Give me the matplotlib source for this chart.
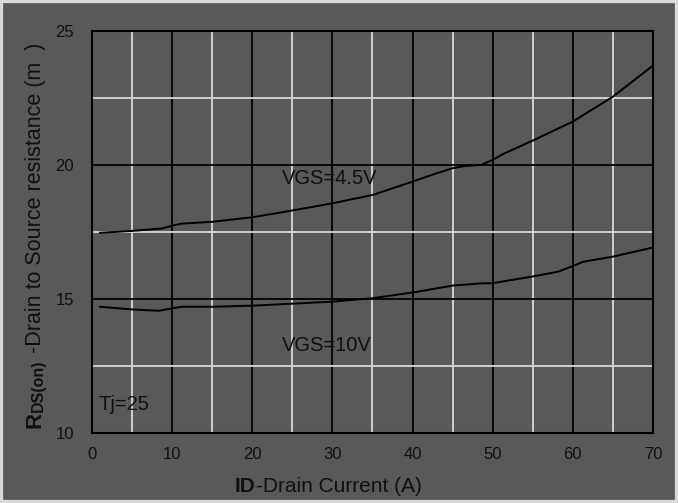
import matplotlib
matplotlib.use("Agg")
import matplotlib.pyplot as plt
from matplotlib.patches import Rectangle
from matplotlib.ticker import MultipleLocator

plt.rcParams['font.family'] = ['Liberation Sans', 'DejaVu Sans']

# drain current (A) and Rds(on) (mOhm)
id_45 = [1, 5, 8.7, 10.2, 11.2, 15, 20, 24, 30, 35, 40, 43, 45, 46.5, 48.5, 50, 51.3, 55, 60, 65, 70]
rds_45 = [17.47, 17.54, 17.63, 17.75, 17.81, 17.88, 18.05, 18.25, 18.57, 18.88, 19.38,
          19.69, 19.88, 19.96, 20.0, 20.19, 20.41, 20.91, 21.62, 22.55, 23.71]

id_10 = [1, 5, 8.3, 10.2, 11.2, 15, 20, 24, 30, 35, 40, 45, 48.5, 50, 55, 58.2, 60, 61.3, 65, 70]
rds_10 = [14.71, 14.61, 14.56, 14.66, 14.71, 14.71, 14.75, 14.81, 14.90, 15.03, 15.24,
          15.5, 15.58, 15.59, 15.84, 16.02, 16.23, 16.39, 16.58, 16.92]

x_ticks = [0, 10, 20, 30, 40, 50, 60, 70]
y_ticks = [10, 15, 20, 25]

bg = '#595959'
light = '#d9d9d9'
ink = '#111111'

fig = plt.figure(figsize=(6.78, 5.03), dpi=100, facecolor=bg)
ax = fig.add_axes([0.1357, 0.1392, 0.9631 - 0.1357, 0.9384 - 0.1392])
ax.set_facecolor(bg)

ax.set_xlim(0, 70)
ax.set_ylim(10, 25)
ax.set_xticks(x_ticks)
ax.set_yticks(y_ticks)
ax.xaxis.set_minor_locator(MultipleLocator(5))
ax.yaxis.set_minor_locator(MultipleLocator(2.5))

ax.grid(which='minor', color=light, lw=1.3)
ax.grid(which='major', color='black', lw=1.3)
ax.set_axisbelow(True)
for sp in ax.spines.values():
    sp.set_color('black')
    sp.set_linewidth(1.5)

ax.tick_params(which='both', length=0, colors=ink, labelsize=12)
ax.tick_params(axis='y', pad=13)
ax.tick_params(axis='x', pad=10)

ax.plot(id_45, rds_45, color='black', lw=1.4)
ax.plot(id_10, rds_10, color='black', lw=1.4)

ax.text(23.7, 19.5, 'VGS=4.5V', fontsize=14.5, color=ink, va='center')
ax.text(23.7, 13.28, 'VGS=10V', fontsize=14.5, color=ink, va='center')
ax.text(0.75, 11.06, 'Tj=25', fontsize=14.5, color=ink, va='center')

# x label: bold "ID" followed by regular text
t1 = fig.text(235 / 678, 1 - 492 / 503, 'ID', fontsize=15, fontweight='bold', color=ink,
              ha='left', va='baseline')
ax.annotate('-Drain Current (A)', xy=(1, 0), xycoords=t1, fontsize=15, color=ink,
            ha='left', va='bottom', annotation_clip=False)

# y label: bold "R", smaller bold "DS(on)", then regular text, stacked upward
r1 = fig.text(46 / 678, 1 - 428 / 503, 'R', fontsize=16, fontweight='bold', color=ink,
              rotation=90, ha='right', va='bottom')
r2 = ax.annotate('DS(on)', xy=(1, 1), xycoords=r1, fontsize=11.5, fontweight='bold',
                 color=ink, rotation=90, ha='right', va='bottom', annotation_clip=False)
ax.annotate(' -Drain to Source resistance (m  )', xy=(1, 1), xycoords=r2, fontsize=15.5,
            color=ink, rotation=90, ha='right', va='bottom', annotation_clip=False)

fig.patches.append(Rectangle((0, 0), 1, 1, transform=fig.transFigure, fill=False,
                             edgecolor=light, lw=4.5))

fig.savefig('out.png', dpi=100, facecolor=bg)
